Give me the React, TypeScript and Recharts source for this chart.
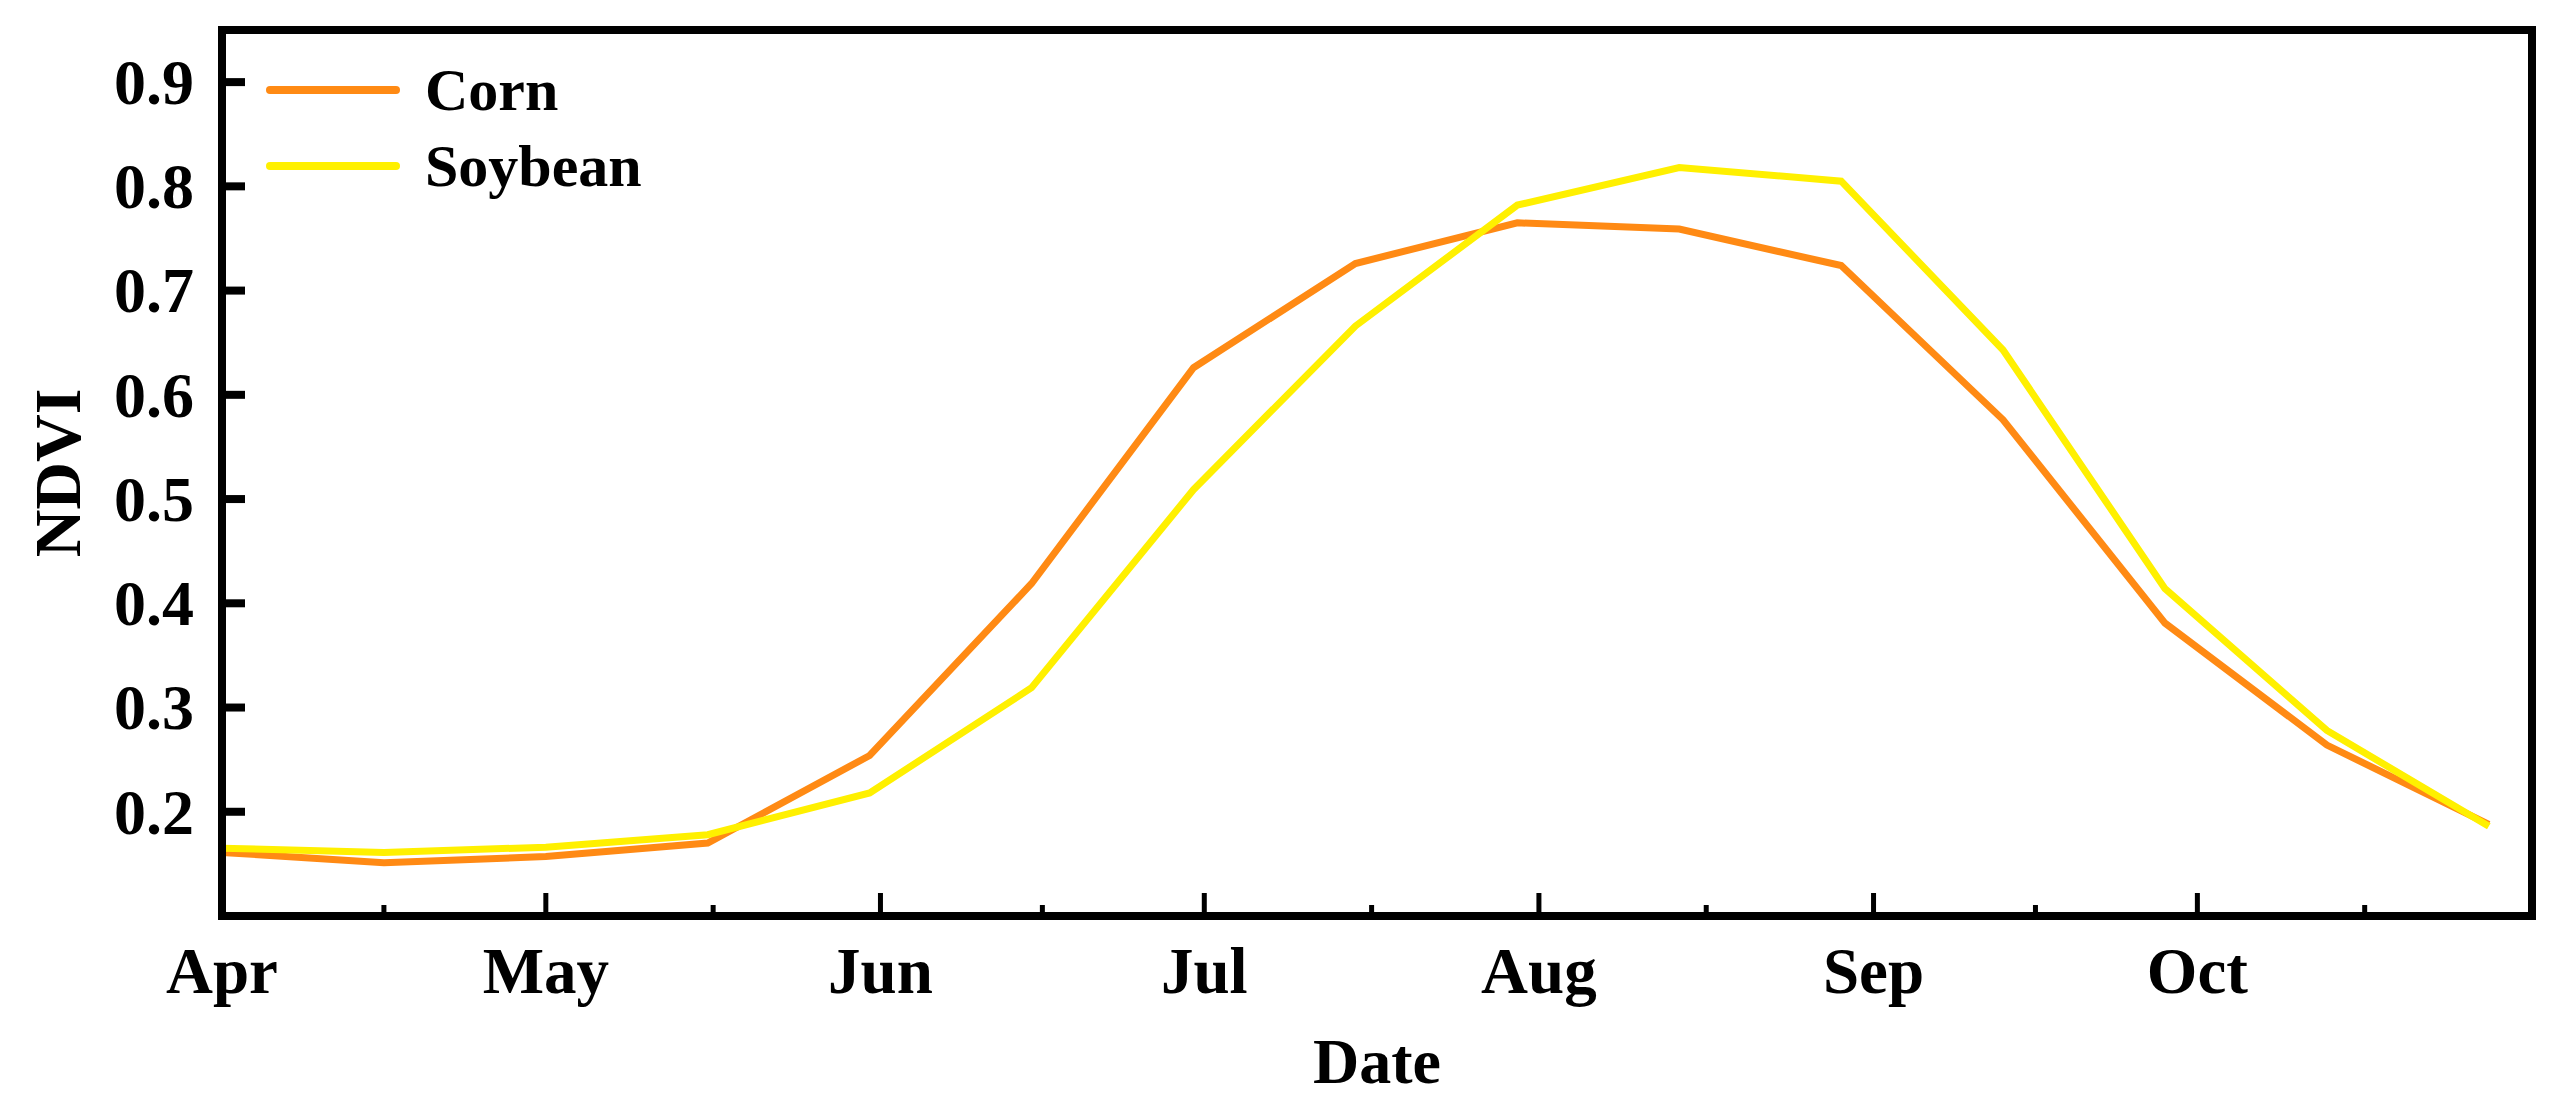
import React from 'react';
import { LineChart, Line, XAxis, YAxis, Legend, ReferenceLine } from 'recharts';

// sampling dates, days after 1 April (15-day composites)
const days = [0, 15, 30, 45, 60, 75, 90, 105, 120, 135, 150, 165, 180, 195, 210];
const corn = [0.161, 0.151, 0.157, 0.17, 0.254, 0.419, 0.626, 0.726, 0.765, 0.759, 0.724, 0.576, 0.381, 0.264, 0.188];
const soybean = [0.165, 0.161, 0.166, 0.178, 0.218, 0.319, 0.509, 0.666, 0.782, 0.818, 0.805, 0.643, 0.414, 0.278, 0.186];

const monthDays = [0, 30, 61, 91, 122, 153, 183];
const monthLabels = ['Apr', 'May', 'Jun', 'Jul', 'Aug', 'Sep', 'Oct'];
const midMonthDays = [15, 45.5, 76, 106.5, 137.5, 168, 198.5];
const yTicks = [0.2, 0.3, 0.4, 0.5, 0.6, 0.7, 0.8, 0.9];
const xDomain = [0, 214];
const yDomain = [0.1, 0.95];

const data = days.map((d, i) => ({ day: d, corn: corn[i], soybean: soybean[i] }));

const font = {
  fontFamily: "'Liberation Serif', 'Times New Roman', serif",
  fontWeight: 700,
  fill: '#000',
};

const frame = { stroke: '#000', strokeWidth: 8, strokeLinecap: 'square' as const };

const XTick = (props: any) => {
  const { x, y, payload } = props;
  const idx = monthDays.indexOf(payload.value);
  const major = idx >= 0;
  return (
    <g>
      <line x1={x} x2={x} y1={y} y2={y - (major ? 23 : 11)} stroke="#000" strokeWidth={5} />
      {major && (
        <text x={x} y={y + 77} textAnchor="middle" fontSize={65} {...font}>
          {monthLabels[idx]}
        </text>
      )}
    </g>
  );
};

const YTick = (props: any) => {
  const { x, y, payload } = props;
  return (
    <g>
      <line x1={x} x2={x + 23} y1={y} y2={y} stroke="#000" strokeWidth={8} />
      <text x={x - 28} y={y} dy="0.34em" textAnchor="end" fontSize={64} {...font}>
        {Number(payload.value).toFixed(1)}
      </text>
    </g>
  );
};

const NdviLabel = (props: any) => {
  const { viewBox } = props;
  const cx = viewBox.x + 80;
  const cy = viewBox.y + viewBox.height / 2;
  return (
    <text x={cx} y={cy} transform={`rotate(-90 ${cx} ${cy})`} textAnchor="middle" fontSize={66} {...font}>
      NDVI
    </text>
  );
};

const DateLabel = (props: any) => {
  const { viewBox } = props;
  return (
    <text x={viewBox.x + viewBox.width / 2} y={viewBox.y + 167} textAnchor="middle" fontSize={64} {...font}>
      Date
    </text>
  );
};

const LegendContent = (props: any) => {
  const { payload } = props;
  return (
    <div>
      {(payload || []).map((p: any) => (
        <div key={p.value} style={{ display: 'flex', alignItems: 'center', height: 76 }}>
          <svg width={134} height={12}>
            <line x1={4} x2={130} y1={6} y2={6} stroke={p.color} strokeWidth={8} strokeLinecap="round" />
          </svg>
          <span
            style={{
              marginLeft: 25,
              fontSize: 60,
              fontWeight: 700,
              fontFamily: "'Liberation Serif', 'Times New Roman', serif",
              color: '#000',
            }}
          >
            {p.value}
          </span>
        </div>
      ))}
    </div>
  );
};

export default function App() {
  return (
    <div style={{ position: 'absolute', left: 0, top: 0, width: 2561, height: 1104, background: '#fff' }}>
      <LineChart width={2561} height={1104} data={data} margin={{ top: 30, right: 29, bottom: 0, left: 0 }}>
        <XAxis
          dataKey="day"
          type="number"
          domain={xDomain}
          ticks={[...monthDays, ...midMonthDays].sort((a, b) => a - b)}
          interval={0}
          height={188}
          tickSize={0}
          tickMargin={0}
          tickLine={false}
          tick={<XTick />}
          axisLine={frame}
          label={<DateLabel />}
        />
        <YAxis
          type="number"
          domain={yDomain}
          ticks={yTicks}
          interval={0}
          width={222}
          tickSize={0}
          tickMargin={0}
          tickLine={false}
          tick={<YTick />}
          axisLine={frame}
          label={<NdviLabel />}
        />
        {/* top and right sides of the frame */}
        <ReferenceLine y={yDomain[1]} stroke="#000" strokeWidth={8} strokeLinecap="square" />
        <ReferenceLine x={xDomain[1]} stroke="#000" strokeWidth={8} strokeLinecap="square" />
        <Legend
          layout="vertical"
          align="center"
          verticalAlign="middle"
          content={<LegendContent />}
          wrapperStyle={{ left: 266, top: 52, width: 'auto', height: 'auto' }}
        />
        <Line
          type="linear"
          dataKey="corn"
          name="Corn"
          stroke="#ff8a14"
          strokeWidth={7}
          dot={false}
          activeDot={false}
          isAnimationActive={false}
        />
        <Line
          type="linear"
          dataKey="soybean"
          name="Soybean"
          stroke="#fff000"
          strokeWidth={7}
          dot={false}
          activeDot={false}
          isAnimationActive={false}
        />
      </LineChart>
    </div>
  );
}
